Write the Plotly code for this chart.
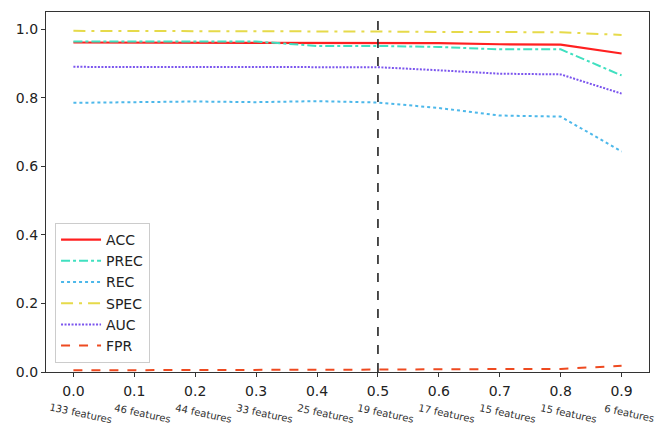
import plotly.graph_objects as go

thresholds = [0.0, 0.1, 0.2, 0.3, 0.4, 0.5, 0.6, 0.7, 0.8, 0.9]
feature_labels = ["133 features", "46 features", "44 features", "33 features", "25 features",
                  "19 features", "17 features", "15 features", "15 features", "6 features"]
acc = [0.961, 0.961, 0.961, 0.961, 0.961, 0.961, 0.959, 0.956, 0.955, 0.929]
prec = [0.964, 0.964, 0.964, 0.964, 0.951, 0.951, 0.948, 0.941, 0.941, 0.865]
rec = [0.785, 0.787, 0.789, 0.787, 0.790, 0.786, 0.770, 0.748, 0.745, 0.643]
spec = [0.995, 0.995, 0.995, 0.994, 0.994, 0.993, 0.992, 0.991, 0.991, 0.983]
auc = [0.890, 0.890, 0.890, 0.890, 0.890, 0.889, 0.880, 0.870, 0.868, 0.812]
fpr = [0.005, 0.005, 0.005, 0.006, 0.006, 0.007, 0.008, 0.009, 0.009, 0.018]
selected_threshold = 0.5

series = [
    ("ACC", acc, "#ff2020", "solid", 2.2),
    ("PREC", prec, "#40e0c0", "dashdot", 2),
    ("REC", rec, "#4db8ea", "dot", 2),
    ("SPEC", spec, "#e6da4a", "12px,6px,3px,6px", 2),
    ("AUC", auc, "#7b55ee", "2px,1.5px", 2),
    ("FPR", fpr, "#ee4a20", "dash", 2),
]

fig = go.Figure()
for name, vals, color, dash, w in series:
    fig.add_trace(go.Scatter(x=thresholds, y=vals, mode="lines", name=name, legendgroup=name,
                             line=dict(color=color, dash=dash, width=w)))

fig.add_vline(x=selected_threshold, line=dict(color="#222222", dash="dash", width=1.6))

for t, lab in zip(thresholds, feature_labels):
    fig.add_annotation(x=t, y=0, xref="x", yref="paper", text=lab, showarrow=False,
                       textangle=12, xanchor="center", yanchor="middle", yshift=-41, xshift=8,
                       font=dict(size=10, color="#333333", family="DejaVu Sans"))

fig.update_layout(
    width=657, height=428,
    margin=dict(l=46, r=8, t=12, b=56),
    plot_bgcolor="white", paper_bgcolor="white",
    font=dict(family="DejaVu Sans", size=14, color="#222222"),
    showlegend=True,
    legend=dict(x=0.015, y=0.025, xanchor="left", yanchor="bottom",
                bordercolor="#cccccc", borderwidth=1, bgcolor="rgba(255,255,255,0.8)",
                font=dict(size=14), tracegroupgap=0, traceorder="grouped", itemwidth=40),
    xaxis=dict(range=[-0.045, 0.945], tickvals=thresholds,
               ticktext=[f"{t:.1f}" for t in thresholds],
               showgrid=False, zeroline=False, showline=True, linecolor="#333333",
               linewidth=1.2, mirror=True, ticks="outside", ticklen=4, tickcolor="#333333",
               ticklabelstandoff=2),
    yaxis=dict(range=[0, 1.05], tickvals=[0, 0.2, 0.4, 0.6, 0.8, 1.0],
               ticktext=["0.0", "0.2", "0.4", "0.6", "0.8", "1.0"],
               showgrid=False, zeroline=False, showline=True, linecolor="#333333",
               linewidth=1.2, mirror=True, ticks="outside", ticklen=4, tickcolor="#333333"),
)

fig.write_html("out.html")
